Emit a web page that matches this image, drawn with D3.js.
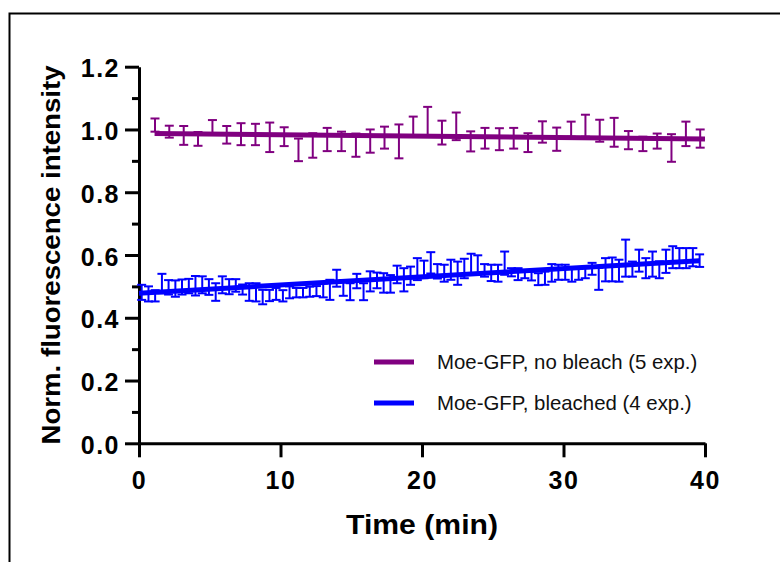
<!DOCTYPE html>
<html>
<head>
<meta charset="utf-8">
<script src="https://cdn.jsdelivr.net/npm/d3@7"></script>
<style>
  body { margin: 0; background: #fff; }
  svg { display: block; }
</style>
</head>
<body>
<svg id="chart"></svg>
<script>
// no bleach series: time (min), mean, SD
const purpleTime = [1.13, 2.14, 3.16, 4.17, 5.19, 6.20, 7.21, 8.23, 9.24, 10.26, 11.27, 12.28, 13.30,
  14.31, 15.33, 16.34, 17.35, 18.37, 19.38, 20.40, 21.41, 22.42, 23.44, 24.45, 25.47, 26.48,
  27.49, 28.51, 29.52, 30.54, 31.55, 32.56, 33.58, 34.59, 35.61, 36.62, 37.63, 38.65, 39.66];
const purpleMean = [1.014, 0.993, 0.981, 0.970, 1.009, 0.983, 0.985, 0.984, 0.975, 0.977, 0.935, 0.949, 0.968,
  0.962, 0.950, 0.963, 0.974, 0.962, 1.009, 1.027, 0.990, 1.010, 0.962, 0.972, 0.969, 0.972,
  0.958, 0.992, 0.969, 1.001, 1.012, 0.996, 0.991, 0.966, 0.954, 0.963, 0.941, 0.986, 0.971];
const purpleSd = [0.021, 0.019, 0.030, 0.022, 0.021, 0.028, 0.035, 0.034, 0.047, 0.030, 0.036, 0.039, 0.037,
  0.031, 0.037, 0.037, 0.035, 0.054, 0.032, 0.045, 0.038, 0.044, 0.032, 0.033, 0.035, 0.033,
  0.030, 0.034, 0.037, 0.024, 0.035, 0.035, 0.046, 0.029, 0.023, 0.024, 0.044, 0.039, 0.029];
const purpleFit = [[1.1, 0.987], [40, 0.970]];

// bleached series: time (min), mean, SD
const blueTime = [0.19, 0.67, 1.14, 1.62, 2.09, 2.57, 3.04, 3.52, 3.99, 4.47, 4.94, 5.42, 5.89, 6.37,
  6.84, 7.32, 7.79, 8.27, 8.74, 9.22, 9.69, 10.17, 10.64, 11.12, 11.59, 12.07, 12.54, 13.02,
  13.49, 13.97, 14.44, 14.92, 15.39, 15.87, 16.34, 16.82, 17.29, 17.77, 18.24, 18.72, 19.19,
  19.67, 20.14, 20.62, 21.09, 21.57, 22.04, 22.52, 22.99, 23.47, 23.94, 24.42, 24.89, 25.37,
  25.84, 26.32, 26.79, 27.27, 27.74, 28.22, 28.69, 29.17, 29.64, 30.12, 30.59, 31.07, 31.54,
  32.02, 32.49, 32.97, 33.44, 33.92, 34.39, 34.87, 35.34, 35.82, 36.29, 36.77, 37.24, 37.72,
  38.19, 38.67, 39.14, 39.62];
const blueMean = [0.481, 0.476, 0.470, 0.509, 0.497, 0.493, 0.498, 0.501, 0.502, 0.505, 0.498, 0.482, 0.505, 0.499,
  0.503, 0.490, 0.482, 0.481, 0.466, 0.471, 0.476, 0.470, 0.481, 0.480, 0.480, 0.483, 0.485, 0.487,
  0.489, 0.526, 0.495, 0.483, 0.517, 0.483, 0.516, 0.519, 0.511, 0.508, 0.538, 0.521, 0.534,
  0.555, 0.554, 0.575, 0.548, 0.542, 0.553, 0.542, 0.557, 0.573, 0.568, 0.551, 0.543, 0.542,
  0.574, 0.545, 0.539, 0.537, 0.533, 0.523, 0.526, 0.543, 0.545, 0.545, 0.537, 0.540, 0.542,
  0.556, 0.524, 0.553, 0.554, 0.550, 0.590, 0.555, 0.582, 0.558, 0.571, 0.553, 0.580, 0.593,
  0.590, 0.590, 0.593, 0.582];
const blueSd = [0.024, 0.024, 0.018, 0.031, 0.023, 0.026, 0.024, 0.023, 0.031, 0.027, 0.025, 0.028, 0.027, 0.024,
  0.020, 0.016, 0.028, 0.029, 0.023, 0.018, 0.019, 0.018, 0.019, 0.015, 0.015, 0.016, 0.016, 0.022,
  0.032, 0.027, 0.025, 0.027, 0.023, 0.027, 0.032, 0.025, 0.031, 0.028, 0.028, 0.037, 0.029,
  0.035, 0.028, 0.034, 0.023, 0.027, 0.032, 0.037, 0.031, 0.031, 0.031, 0.020, 0.026, 0.027,
  0.037, 0.013, 0.019, 0.011, 0.014, 0.019, 0.021, 0.028, 0.024, 0.024, 0.022, 0.019, 0.016,
  0.019, 0.035, 0.037, 0.038, 0.035, 0.059, 0.024, 0.035, 0.032, 0.040, 0.027, 0.037, 0.035,
  0.032, 0.032, 0.029, 0.020];
const blueFit = [[0, 0.478], [39.6, 0.582]];

const xTicks = [0, 10, 20, 30, 40];
const yTicks = [0, 0.2, 0.4, 0.6, 0.8, 1.0, 1.2];
const yMinorTicks = [0.1, 0.3, 0.5, 0.7, 0.9, 1.1];

const seriesNames = ['Moe-GFP, no bleach (5 exp.)', 'Moe-GFP, bleached (4 exp.)'];
const seriesColors = ['#800080', '#0000ff'];

const width = 780, height = 562;
const font = "'Liberation Sans', Arial, sans-serif";

const svg = d3.select('#chart')
  .attr('width', width)
  .attr('height', height)
  .style('font-family', font);

const x = d3.scaleLinear().domain([0, 40]).range([139, 705]);
const y = d3.scaleLinear().domain([0, 1.2]).range([443.3, 66.7]);

// frame round the figure (only top and left visible in the crop)
svg.append('path')
  .attr('d', `M9.5,${height} V13.5 H${width}`)
  .attr('fill', 'none')
  .attr('stroke', '#000')
  .attr('stroke-width', 2);

// y axis
const yAxis = svg.append('g')
  .attr('transform', `translate(${x(0)},0)`)
  .call(d3.axisLeft(y).tickValues(yTicks).tickSize(14).tickSizeOuter(0).tickPadding(7)
    .tickFormat(d3.format('.1f')));
svg.append('g')
  .attr('transform', `translate(${x(0)},0)`)
  .call(d3.axisLeft(y).tickValues(yMinorTicks).tickSize(7).tickSizeOuter(0).tickFormat(''))
  .call(g => g.select('.domain').remove())
  .selectAll('line').attr('stroke-width', 3);

// x axis
const xAxis = svg.append('g')
  .attr('transform', `translate(0,${y(0)})`)
  .call(d3.axisBottom(x).tickValues(xTicks).tickSize(14).tickSizeOuter(0).tickPadding(14));

[yAxis, xAxis].forEach(g => {
  g.select('.domain').attr('stroke-width', 3);
  g.selectAll('.tick line').attr('stroke-width', 3);
  g.selectAll('.tick text')
    .style('font-family', font)
    .style('font-weight', 'bold')
    .style('font-size', '25px')
    .style('letter-spacing', '1.5px')
    .attr('fill', '#000');
});
yAxis.selectAll('.tick text').attr('dy', '0.4em').attr('x', -19);

// axis titles
svg.append('text')
  .attr('transform', `translate(60,${(y(0) + y(1.2)) / 2}) rotate(-90)`)
  .attr('text-anchor', 'middle')
  .attr('textLength', 379)
  .attr('lengthAdjust', 'spacingAndGlyphs')
  .style('font-weight', 'bold')
  .style('font-size', '25px')
  .text('Norm. fluorescence intensity');

svg.append('text')
  .attr('x', x(20))
  .attr('y', 533.5)
  .attr('text-anchor', 'middle')
  .attr('textLength', 152)
  .attr('lengthAdjust', 'spacingAndGlyphs')
  .style('font-weight', 'bold')
  .style('font-size', '28px')
  .text('Time (min)');

// error bars
function drawErrorBars(times, means, sds, color) {
  const pts = times.map((t, i) => ({ t, m: means[i], s: sds[i] }));
  const g = svg.append('g')
    .attr('stroke', color)
    .attr('stroke-width', 2)
    .attr('fill', 'none');
  const bar = g.selectAll('g.err')
    .data(pts)
    .enter()
    .append('g')
    .attr('class', 'err');
  bar.append('line')
    .attr('x1', d => x(d.t)).attr('x2', d => x(d.t))
    .attr('y1', d => y(d.m - d.s)).attr('y2', d => y(d.m + d.s));
  bar.append('line')
    .attr('x1', d => x(d.t) - 4.5).attr('x2', d => x(d.t) + 4.5)
    .attr('y1', d => y(d.m + d.s)).attr('y2', d => y(d.m + d.s));
  bar.append('line')
    .attr('x1', d => x(d.t) - 4.5).attr('x2', d => x(d.t) + 4.5)
    .attr('y1', d => y(d.m - d.s)).attr('y2', d => y(d.m - d.s));
}
drawErrorBars(purpleTime, purpleMean, purpleSd, seriesColors[0]);
drawErrorBars(blueTime, blueMean, blueSd, seriesColors[1]);

// fitted lines
const lineGen = d3.line().x(p => x(p[0])).y(p => y(p[1]));
[purpleFit, blueFit].forEach((fit, i) => {
  svg.append('path')
    .attr('d', lineGen(fit))
    .attr('fill', 'none')
    .attr('stroke', seriesColors[i])
    .attr('stroke-width', 5);
});

// legend
const legend = svg.append('g');
seriesNames.forEach((name, i) => {
  const ly = 362 + i * 41;
  legend.append('line')
    .attr('x1', 374).attr('x2', 414)
    .attr('y1', ly).attr('y2', ly)
    .attr('stroke', seriesColors[i])
    .attr('stroke-width', 5);
  legend.append('text')
    .attr('x', 437)
    .attr('y', ly + 7)
    .style('font-size', '20.4px')
    .attr('fill', '#111')
    .text(name);
});
</script>
</body>
</html>
